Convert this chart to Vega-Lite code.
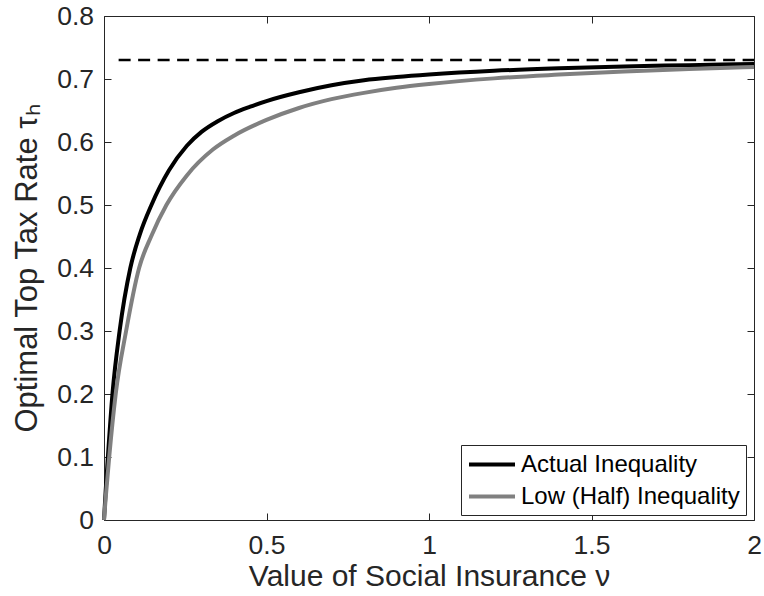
{
  "$schema": "https://vega.github.io/schema/vega-lite/v6.json",
  "width": 650,
  "height": 504,
  "autosize": {"type": "none"},
  "padding": {"left": 104, "top": 16, "right": 10, "bottom": 76},
  "background": "white",
  "config": {
    "font": "Liberation Sans",
    "view": {"stroke": null},
    "axis": {
      "grid": false,
      "domainColor": "#262626",
      "domainWidth": 1,
      "tickColor": "#262626",
      "tickWidth": 1,
      "tickSize": -7,
      "labelFlush": false,
      "labelColor": "#262626",
      "labelFont": "Liberation Sans",
      "labelFontSize": 26.5,
      "titleColor": "#262626",
      "titleFont": "Liberation Sans",
      "titleFontSize": 30,
      "titleFontWeight": "normal"
    }
  },
  "datasets": {
    "limit": [
      {"nu": 0.045, "tau": 0.73},
      {"nu": 2, "tau": 0.73}
    ],
    "curves": [
      {"series": "Actual Inequality", "nu": 0, "tau": 0},
      {"series": "Actual Inequality", "nu": 0.005, "tau": 0.045},
      {"series": "Actual Inequality", "nu": 0.012, "tau": 0.1},
      {"series": "Actual Inequality", "nu": 0.026, "tau": 0.2},
      {"series": "Actual Inequality", "nu": 0.048, "tau": 0.3},
      {"series": "Actual Inequality", "nu": 0.081, "tau": 0.4},
      {"series": "Actual Inequality", "nu": 0.11, "tau": 0.453},
      {"series": "Actual Inequality", "nu": 0.146, "tau": 0.5},
      {"series": "Actual Inequality", "nu": 0.2, "tau": 0.555},
      {"series": "Actual Inequality", "nu": 0.255, "tau": 0.594},
      {"series": "Actual Inequality", "nu": 0.3, "tau": 0.616},
      {"series": "Actual Inequality", "nu": 0.35, "tau": 0.633},
      {"series": "Actual Inequality", "nu": 0.4, "tau": 0.646},
      {"series": "Actual Inequality", "nu": 0.45, "tau": 0.656},
      {"series": "Actual Inequality", "nu": 0.5, "tau": 0.665},
      {"series": "Actual Inequality", "nu": 0.6, "tau": 0.679},
      {"series": "Actual Inequality", "nu": 0.7, "tau": 0.69},
      {"series": "Actual Inequality", "nu": 0.8, "tau": 0.698},
      {"series": "Actual Inequality", "nu": 0.9, "tau": 0.703},
      {"series": "Actual Inequality", "nu": 1.0, "tau": 0.707},
      {"series": "Actual Inequality", "nu": 1.2, "tau": 0.713},
      {"series": "Actual Inequality", "nu": 1.4, "tau": 0.717},
      {"series": "Actual Inequality", "nu": 1.6, "tau": 0.72},
      {"series": "Actual Inequality", "nu": 1.8, "tau": 0.722},
      {"series": "Actual Inequality", "nu": 2.0, "tau": 0.724},
      {"series": "Low (Half) Inequality", "nu": 0, "tau": 0},
      {"series": "Low (Half) Inequality", "nu": 0.006, "tau": 0.04},
      {"series": "Low (Half) Inequality", "nu": 0.016, "tau": 0.1},
      {"series": "Low (Half) Inequality", "nu": 0.036, "tau": 0.2},
      {"series": "Low (Half) Inequality", "nu": 0.068, "tau": 0.3},
      {"series": "Low (Half) Inequality", "nu": 0.108, "tau": 0.4},
      {"series": "Low (Half) Inequality", "nu": 0.145, "tau": 0.45},
      {"series": "Low (Half) Inequality", "nu": 0.192, "tau": 0.5},
      {"series": "Low (Half) Inequality", "nu": 0.255, "tau": 0.547},
      {"series": "Low (Half) Inequality", "nu": 0.335, "tau": 0.588},
      {"series": "Low (Half) Inequality", "nu": 0.4, "tau": 0.61},
      {"series": "Low (Half) Inequality", "nu": 0.5, "tau": 0.635},
      {"series": "Low (Half) Inequality", "nu": 0.6, "tau": 0.654},
      {"series": "Low (Half) Inequality", "nu": 0.7, "tau": 0.668},
      {"series": "Low (Half) Inequality", "nu": 0.8, "tau": 0.678},
      {"series": "Low (Half) Inequality", "nu": 0.9, "tau": 0.686},
      {"series": "Low (Half) Inequality", "nu": 1.0, "tau": 0.692},
      {"series": "Low (Half) Inequality", "nu": 1.2, "tau": 0.701},
      {"series": "Low (Half) Inequality", "nu": 1.4, "tau": 0.707},
      {"series": "Low (Half) Inequality", "nu": 1.6, "tau": 0.712},
      {"series": "Low (Half) Inequality", "nu": 1.8, "tau": 0.716},
      {"series": "Low (Half) Inequality", "nu": 2.0, "tau": 0.719}
    ]
  },
  "layer": [
    {
      "data": {"name": "curves"},
      "mark": {"type": "line", "strokeWidth": 4, "interpolate": "monotone"},
      "encoding": {
        "x": {
          "field": "nu",
          "type": "quantitative",
          "scale": {"domain": [0, 2], "nice": false},
          "axis": {
            "orient": "bottom",
            "values": [0, 0.5, 1, 1.5, 2],
            "format": "~g",
            "labelPadding": 19.5,
            "title": "Value of Social Insurance ν",
            "titlePadding": 2
          }
        },
        "y": {
          "field": "tau",
          "type": "quantitative",
          "scale": {"domain": [0, 0.8], "nice": false},
          "axis": {
            "orient": "left",
            "values": [0, 0.1, 0.2, 0.3, 0.4, 0.5, 0.6, 0.7, 0.8],
            "format": "~g",
            "labelPadding": 17.5,
            "title": "Optimal Top Tax Rate τₕ",
            "titleFontSize": 31,
            "titlePadding": 13
          }
        },
        "color": {
          "field": "series",
          "type": "nominal",
          "scale": {
            "domain": ["Actual Inequality", "Low (Half) Inequality"],
            "range": ["#000000", "#808080"]
          },
          "legend": {
            "orient": "none",
            "legendX": 357,
            "legendY": 429,
            "title": null,
            "padding": 6,
            "symbolType": "M-1,0H3",
            "symbolSize": 529,
            "symbolStrokeWidth": 4,
            "labelFont": "Liberation Sans",
            "labelFontSize": 24,
            "labelColor": "#000000",
            "labelOffset": 27,
            "labelLimit": 500,
            "rowPadding": 6,
            "strokeColor": "#262626",
            "fillColor": "white"
          }
        }
      }
    },
    {
      "data": {"name": "limit"},
      "mark": {"type": "line", "color": "#000000", "strokeWidth": 2.5, "strokeDash": [12, 7.5]},
      "encoding": {
        "x": {
          "field": "nu",
          "type": "quantitative",
          "axis": {"orient": "top", "values": [0, 0.5, 1, 1.5, 2], "labels": false, "title": null}
        },
        "y": {
          "field": "tau",
          "type": "quantitative",
          "axis": {"orient": "right", "values": [0, 0.1, 0.2, 0.3, 0.4, 0.5, 0.6, 0.7, 0.8], "labels": false, "title": null}
        }
      }
    }
  ],
  "resolve": {"axis": {"x": "independent", "y": "independent"}}
}
